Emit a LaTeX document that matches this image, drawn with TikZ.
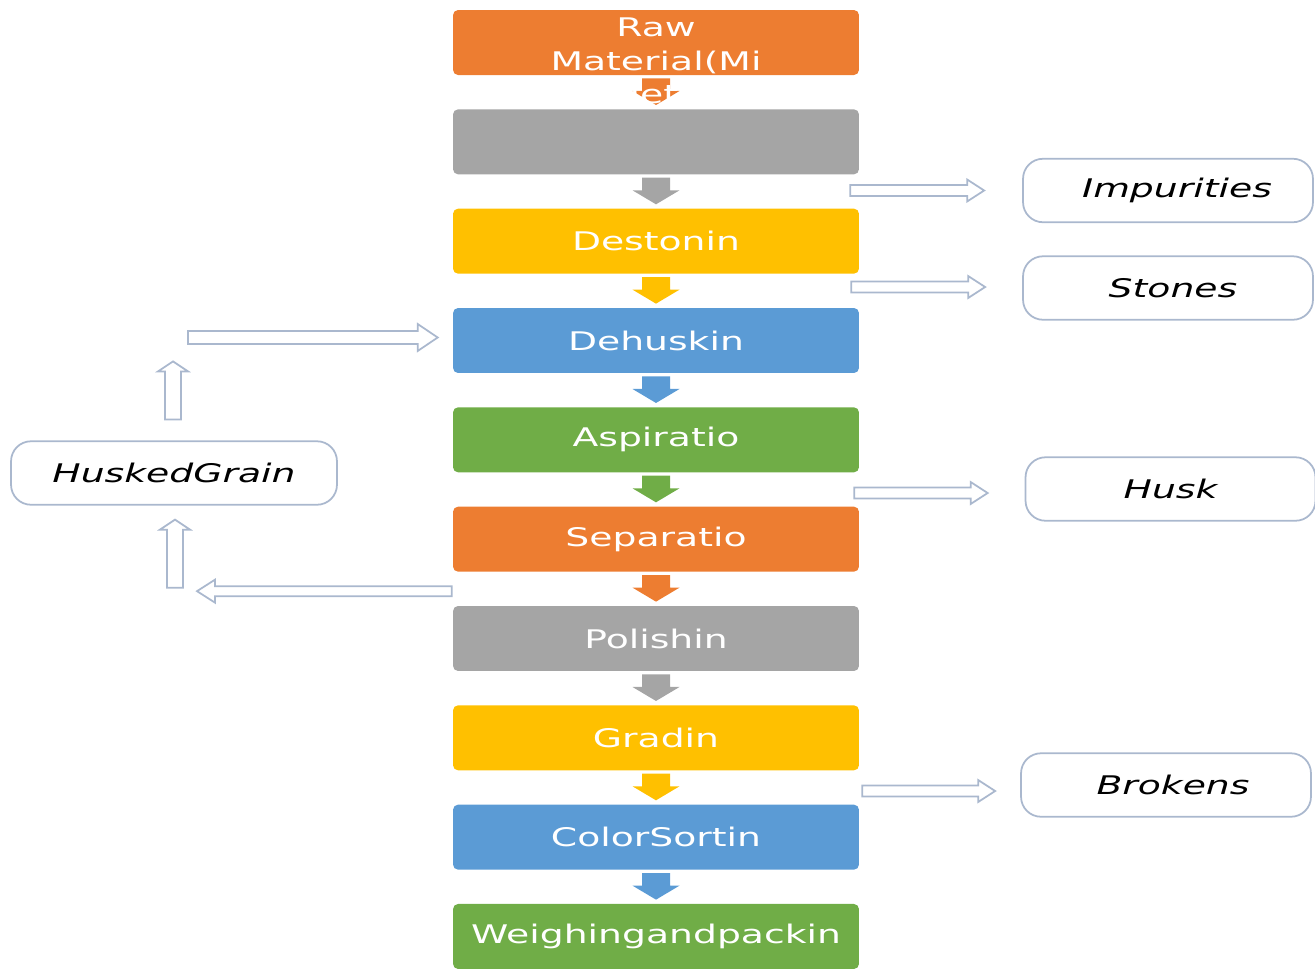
\documentclass[tikz,border=0pt]{standalone}
\usepackage{fontspec}
\newfontfamily\flowfont{DejaVu Sans}[FakeStretch=1.47]
\usetikzlibrary{calc,positioning}
\definecolor{stepOrange}{HTML}{ED7D31}
\definecolor{stepGray}{HTML}{A5A5A5}
\definecolor{stepGold}{HTML}{FFC000}
\definecolor{stepBlue}{HTML}{5B9BD5}
\definecolor{stepGreen}{HTML}{70AD47}
\definecolor{outline}{RGB}{170,184,206}
% block arrow: [style]{from}{to}{shaft half width}{head half width}{head length}
\newcommand{\blockarrow}[6][]{%
  \coordinate (ba-s) at (#2);
  \coordinate (ba-e) at (#3);
  \coordinate (ba-h) at ($(ba-e)!#6!(ba-s)$);
  \path[#1] ($(ba-s)!#4!90:(ba-e)$) -- ($(ba-h)!#4!-90:(ba-s)$) -- ($(ba-h)!#5!-90:(ba-s)$)
    -- (ba-e) -- ($(ba-h)!#5!90:(ba-s)$) -- ($(ba-h)!#4!90:(ba-s)$) -- ($(ba-s)!#4!-90:(ba-e)$) -- cycle;}

\begin{document}
\begin{tikzpicture}[x=0.02cm, y=-0.02cm, node distance=1.987cm,
    stepbox/.style={rectangle, fill=#1, rounded corners=0.1cm, minimum width=8.12cm,
        minimum height=1.3cm, inner sep=0pt, text=white,
        font=\flowfont\fontsize{14.6}{18.9}\selectfont},
    sidebox/.style={rectangle, draw=outline, line width=1pt, fill=white, rounded corners=0.4cm,
        minimum width=5.8cm, minimum height=1.27cm, inner sep=0pt,
        font=\flowfont\itshape\fontsize{14.6}{18.9}\selectfont},
    hollow/.style={draw=outline, fill=white, line width=1pt}
    ]
    \useasboundingbox (0,0) rectangle (1315,968);

    % Process steps
    \node [stepbox=stepOrange] (raw) at (656,42.5) {};
    \node [stepbox=stepGray, below of=raw] (clean) {};
    \node [stepbox=stepGold, below of=clean] (destone) {Destonin};
    \node [stepbox=stepBlue, below of=destone] (dehusk) {Dehuskin};
    \node [stepbox=stepGreen, below of=dehusk] (aspirate) {Aspiratio};
    \node [stepbox=stepOrange, below of=aspirate] (separate) {Separatio};
    \node [stepbox=stepGray, below of=separate] (polish) {Polishin};
    \node [stepbox=stepGold, below of=polish] (grade) {Gradin};
    \node [stepbox=stepBlue, below of=grade] (sort) {ColorSortin};
    \node [stepbox=stepGreen, below of=sort] (pack) {Weighingandpackin};

    % By-products
    \node [sidebox] (impur) at (1168,190.5) {\hspace*{0.36cm}Impurities};
    \node [sidebox] (stones) at (1168,288) {\hspace*{0.2cm}Stones};
    \node [sidebox] (husk) at (1170.5,489) {Husk};
    \node [sidebox] (brokens) at (1166,785) {\hspace*{0.28cm}Brokens};
    \node [sidebox, minimum width=6.52cm] (huskgrain) at (174,473) {HuskedGrain};

    % Main flow
    \foreach \a/\b/\c in {raw/clean/stepOrange, clean/destone/stepGray, destone/dehusk/stepGold,
        dehusk/aspirate/stepBlue, aspirate/separate/stepGreen, separate/polish/stepOrange,
        polish/grade/stepGray, grade/sort/stepGold, sort/pack/stepBlue}
        \blockarrow[fill=\c]{$(\a.south)+(0,3)$}{$(\b.north)+(0,-4)$}{0.28cm}{0.47cm}{0.28cm};

    % Overflowing label of the first step
    \node [text=white, align=center, font=\flowfont\fontsize{14.6}{19.2}\selectfont]
        (rawtext) at ($(raw.center)+(0,20)$) {Raw\\Material(Mi\\llet)};

    % Side outputs
    \blockarrow[hollow]{$(impur.west -| clean.east)+(-9,0)$}{$(impur.west)+(-38,0)$}{0.11cm}{0.22cm}{0.34cm}
    \blockarrow[hollow]{$(stones.west -| destone.east)+(-8,-1)$}{$(stones.west)+(-37,-1)$}{0.11cm}{0.22cm}{0.34cm}
    \blockarrow[hollow]{$(husk.west -| aspirate.east)+(-5,4)$}{$(husk.west)+(-37,4)$}{0.11cm}{0.22cm}{0.34cm}
    \blockarrow[hollow]{$(brokens.west -| grade.east)+(3,6)$}{$(brokens.west)+(-25,6)$}{0.11cm}{0.22cm}{0.34cm}

    % Husked grain loop
    \blockarrow[hollow]{$(separate.west)+(-1,52)$}{$(separate.west -| huskgrain.south)+(23,52)$}{0.1cm}{0.23cm}{0.36cm}
    \blockarrow[hollow]{$(huskgrain.south)+(1,82)$}{$(huskgrain.south)+(1,14)$}{0.16cm}{0.3cm}{0.2cm}
    \blockarrow[hollow]{$(huskgrain.north)+(-1,-21)$}{$(huskgrain.north)+(-1,-79)$}{0.16cm}{0.3cm}{0.2cm}
    \blockarrow[hollow]{$(dehusk.west -| huskgrain.north)+(14,-3)$}{$(dehusk.west)+(-15,-3)$}{0.13cm}{0.27cm}{0.4cm}
\end{tikzpicture}
\end{document}
